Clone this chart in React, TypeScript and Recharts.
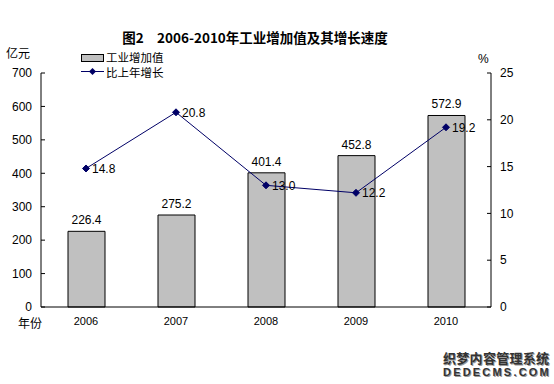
import React from 'react';
import { ComposedChart, Bar, Line, XAxis, YAxis, LabelList, Legend } from 'recharts';

const years = ['2006', '2007', '2008', '2009', '2010'];
const valueAdded = [226.4, 275.2, 401.4, 452.8, 572.9];
const growth = [14.8, 20.8, 13.0, 12.2, 19.2];
const leftTicks = [0, 100, 200, 300, 400, 500, 600, 700];
const rightTicks = [0, 5, 10, 15, 20, 25];
const boundaryTicks = [0, 1, 2, 3, 4, 5];

const data = years.map((y, i) => ({ year: y, idx: i + 0.5, va: valueAdded[i], g: growth[i] }));

const NAVY = '#000066';
const FONT = 'Arial, "Liberation Sans", "Noto Sans CJK SC", sans-serif';
const CJK = '"Noto Sans CJK SC", sans-serif';

const Diamond = (props: any) => {
  const { cx, cy } = props;
  if (cx == null || cy == null) return null;
  const r = 3.5;
  return <polygon points={`${cx},${cy - r} ${cx + r},${cy} ${cx},${cy + r} ${cx - r},${cy}`} fill={NAVY} stroke={NAVY} />;
};

const LegendBox = () => (
  <div style={{ background: '#fff', width: 146, height: 30, fontFamily: CJK, fontSize: 11.5, color: '#000', position: 'relative' }}>
    <div style={{ position: 'absolute', left: 35, top: 5, width: 21, height: 6, background: '#C0C0C0', border: '1px solid #000' }} />
    <div style={{ position: 'absolute', left: 60, top: 2, lineHeight: '12px' }}>工业增加值</div>
    <svg style={{ position: 'absolute', left: 35, top: 18 }} width={23} height={9}>
      <line x1={0} y1={4.5} x2={23} y2={4.5} stroke={NAVY} />
      <polygon points="11.5,1 15,4.5 11.5,8 8,4.5" fill={NAVY} />
    </svg>
    <div style={{ position: 'absolute', left: 60, top: 17, lineHeight: '12px' }}>比上年增长</div>
  </div>
);

export default function App() {
  return (
    <div style={{ position: 'absolute', left: 0, top: 0, width: 554, height: 384, background: '#fff', overflow: 'hidden' }}>
      <div style={{ position: 'absolute', left: 0, width: 510, top: 28, textAlign: 'center', fontFamily: CJK, fontWeight: 700, fontSize: 13.5, lineHeight: '18px', color: '#000' }}>
        图2　2006-2010年工业增加值及其增长速度
      </div>
      <div style={{ position: 'absolute', left: 6, top: 45, fontFamily: CJK, fontSize: 12, lineHeight: '16px' }}>亿元</div>
      <div style={{ position: 'absolute', left: 478, top: 51, fontFamily: FONT, fontSize: 12, lineHeight: '16px' }}>%</div>
      <div style={{ position: 'absolute', left: 18, top: 315, fontFamily: CJK, fontSize: 12, lineHeight: '16px' }}>年份</div>
      <ComposedChart
        width={554}
        height={384}
        data={data}
        margin={{ top: 73, right: 0, bottom: 0, left: 0 }}
        barCategoryGap={26}
      >
        <XAxis xAxisId="ticks" type="number" dataKey="idx" domain={[0, 5]} ticks={boundaryTicks} height={0}
          axisLine={false} tick={false} tickSize={-4} tickLine={{ stroke: '#000' }} />
        <XAxis dataKey="year" height={77} axisLine={{ stroke: '#000' }} tickLine={false} tickSize={6} tickMargin={4}
          tick={{ fill: '#000', fontSize: 11, fontFamily: FONT }} interval={0} />
        <XAxis xAxisId="top" dataKey="year" orientation="top" height={0} axisLine={{ stroke: '#808080' }} tick={false} tickLine={false} />
        <YAxis yAxisId="left" width={41} domain={[0, 700]} ticks={leftTicks} interval={0}
          axisLine={{ stroke: '#000' }} tickLine={{ stroke: '#000' }} tickSize={-4} tickMargin={13}
          tick={{ fill: '#000', fontSize: 12, fontFamily: FONT }} />
        <YAxis yAxisId="right" orientation="right" width={63} domain={[0, 25]} ticks={rightTicks} interval={0}
          axisLine={{ stroke: '#000' }} tickLine={{ stroke: '#000' }} tickSize={-4} tickMargin={13}
          tick={{ fill: '#000', fontSize: 12, fontFamily: FONT, textAnchor: 'start' }} />
        <Legend layout="vertical" align="center" verticalAlign="middle" content={<LegendBox />}
          wrapperStyle={{ left: 46, top: 49, width: 146, height: 30 }} />
        <Bar yAxisId="left" dataKey="va" name="工业增加值" fill="#C0C0C0" stroke="#000" strokeWidth={1} barSize={37} isAnimationActive={false}>
          <LabelList dataKey="va" position="top" offset={7} fill="#000" fontSize={12} fontFamily={FONT} formatter={(v: any) => Number(v).toFixed(1)} />
        </Bar>
        <Line yAxisId="right" dataKey="g" name="比上年增长" stroke={NAVY} strokeWidth={1} dot={<Diamond />} activeDot={false} isAnimationActive={false}>
          <LabelList dataKey="g" position="right" offset={6} fill="#000" fontSize={12} fontFamily={FONT} formatter={(v: any) => Number(v).toFixed(1)} />
        </Line>
      </ComposedChart>
      <div style={{ position: 'absolute', left: 443, top: 351, fontFamily: CJK, fontWeight: 700, fontSize: 13, lineHeight: '14px', color: '#333', letterSpacing: 0.3, textShadow: '1px 1px 0 #999' }}>织梦内容管理系统</div>
      <div style={{ position: 'absolute', left: 443, top: 366, fontFamily: FONT, fontWeight: 700, fontSize: 11, lineHeight: '12px', color: '#333', letterSpacing: 2.2, textShadow: '1px 1px 0 #999' }}>DEDECMS.COM</div>
    </div>
  );
}
